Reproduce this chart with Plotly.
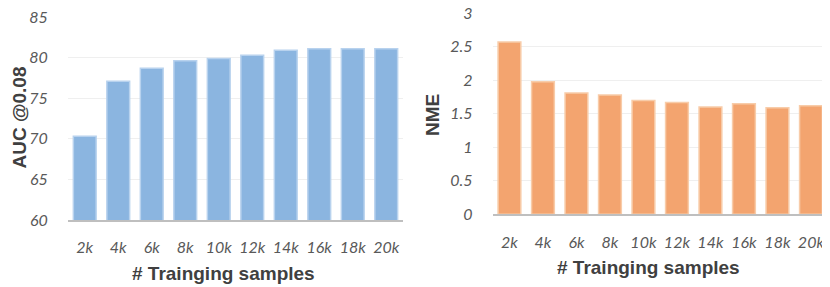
import plotly.graph_objects as go

categories = ["2k", "4k", "6k", "8k", "10k", "12k", "14k", "16k", "18k", "20k"]
auc_values = [70.3, 77.1, 78.7, 79.6, 79.9, 80.3, 80.9, 81.1, 81.1, 81.1]
nme_values = [2.57, 1.98, 1.81, 1.78, 1.70, 1.67, 1.60, 1.65, 1.59, 1.62]
auc_ticks = [60, 65, 70, 75, 80, 85]
nme_ticks = [0, 0.5, 1, 1.5, 2, 2.5, 3]
nme_ticktext = ["0", "0.5", "1", "1.5", "2", "2.5", "3"]

# page body has an 8px margin; figure is sized to fill the rest of the window
OFF = 8
W, H = 830 - OFF, 287 - OFF


def px(x):
    return (x - OFF) / W


def py(y):
    return 1 - (y - OFF) / H


tick_font = dict(family="Lato, Open Sans, sans-serif", size=16, color="#595959", style="italic")
title_font = dict(family="Liberation Sans, Arial, sans-serif", size=19, color="#404040", weight="bold")

fig = go.Figure()
fig.add_trace(go.Bar(x=categories, y=auc_values, xaxis="x", yaxis="y",
                     marker=dict(color="#8BB5E0", line=dict(color="#B8D2EE", width=1.5))))
fig.add_trace(go.Bar(x=categories, y=nme_values, xaxis="x2", yaxis="y2",
                     marker=dict(color="#F3A46F", line=dict(color="#F8CCA9", width=1.5))))

common_x = dict(showgrid=False, showline=True, linecolor="#BFBFBF", linewidth=2,
                ticks="outside", ticklen=12, tickcolor="rgba(0,0,0,0)",
                tickfont=tick_font, zeroline=False, fixedrange=True, automargin=False,
                ticklabeloverflow="allow")
common_y = dict(showgrid=True, gridcolor="#EFEFEF", gridwidth=1, showline=False,
                ticks="outside", ticklen=16, tickcolor="rgba(0,0,0,0)",
                tickfont=tick_font, zeroline=False, automargin=False,
                ticklabeloverflow="allow")

fig.update_layout(
    width=W, height=H,
    margin=dict(l=0, r=0, t=0, b=0),
    paper_bgcolor="white", plot_bgcolor="white",
    showlegend=False,
    bargap=0.32,
    xaxis=dict(domain=[px(68), px(403)], anchor="y", **common_x),
    yaxis=dict(domain=[py(220), py(17)], anchor="x", range=[60, 85],
               tickvals=auc_ticks, **common_y),
    xaxis2=dict(domain=[px(492.7), px(827.7)], anchor="y2", **common_x),
    yaxis2=dict(domain=[py(214.3), py(13.3)], anchor="x2", range=[0, 3],
                tickvals=nme_ticks, ticktext=nme_ticktext, **common_y),
    annotations=[
        dict(text="AUC @0.08", x=px(19.5), y=py(118), xref="paper", yref="paper",
             textangle=-90, showarrow=False, font=title_font, xanchor="center", yanchor="middle"),
        dict(text="NME", x=px(433), y=py(115), xref="paper", yref="paper",
             textangle=-90, showarrow=False, font=title_font, xanchor="center", yanchor="middle"),
        dict(text="# Trainging samples", x=px(223), y=py(273), xref="paper", yref="paper",
             showarrow=False, font=title_font, xanchor="center", yanchor="middle"),
        dict(text="# Trainging samples", x=px(648), y=py(267), xref="paper", yref="paper",
             showarrow=False, font=title_font, xanchor="center", yanchor="middle"),
    ],
)

fig.write_html("out.html")
